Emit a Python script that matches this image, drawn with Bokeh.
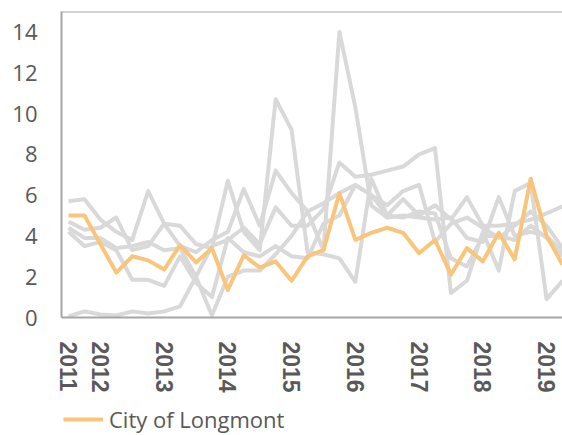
from bokeh.plotting import figure
from bokeh.layouts import column
from bokeh.models import Range1d, FixedTicker, Legend, LegendItem, Span
from bokeh.embed import file_html
from bokeh.resources import INLINE

quarters = ["2011 Q3", "2011 Q4",
            "2012 Q1", "2012 Q2", "2012 Q3", "2012 Q4",
            "2013 Q1", "2013 Q2", "2013 Q3", "2013 Q4",
            "2014 Q1", "2014 Q2", "2014 Q3", "2014 Q4",
            "2015 Q1", "2015 Q2", "2015 Q3", "2015 Q4",
            "2016 Q1", "2016 Q2", "2016 Q3", "2016 Q4",
            "2017 Q1", "2017 Q2", "2017 Q3", "2017 Q4",
            "2018 Q1", "2018 Q2", "2018 Q3", "2018 Q4",
            "2019 Q1", "2019 Q2"]

longmont = [5.0, 5.0, 3.6, 2.2, 3.0, 2.8, 2.35, 3.55, 2.7, 3.4, 1.35, 3.05,
            2.45, 2.75, 1.8, 3.0, 3.3, 6.1, 3.8, 4.15, 4.4, 4.15, 3.15, 3.8,
            2.1, 3.4, 2.75, 4.15, 2.85, 6.8, 4.0, 2.6]

comp_a = [5.7, 5.8, 4.8, 4.2, 3.8, 6.2, 4.6, 4.5, 3.6, 3.4, 6.7, 4.2,
          3.3, 10.7, 9.2, 3.2, 3.1, 2.9, 1.75, 6.8, 5.0, 5.8, 5.0, 5.5,
          4.8, 5.9, 4.5, 4.5, 4.6, 4.8, 5.1, 5.45]
comp_b = [4.7, 4.3, 4.4, 4.9, 3.3, 3.5, 4.6, 3.5, 3.2, 3.8, 4.2, 6.3,
          4.5, 7.2, 6.1, 5.2, 3.3, 14.0, 10.3, 5.5, 4.9, 5.0, 4.9, 4.8,
          4.9, 3.9, 3.7, 5.9, 4.0, 4.2, 4.0, 3.2]
comp_c = [4.4, 3.9, 3.9, 3.4, 3.5, 3.7, 3.3, 3.4, 2.0, 3.5, 3.8, 4.4,
          3.6, 5.4, 4.5, 4.5, 5.3, 7.6, 6.9, 7.0, 7.2, 7.4, 8.0, 8.3,
          1.2, 1.8, 4.2, 2.3, 6.2, 6.6, 0.9, 1.8]
comp_d = [4.2, 3.5, 3.7, 3.3, 1.85, 1.85, 1.55, 3.0, 1.7, 1.0, 3.9, 3.2,
          3.0, 3.5, 3.0, 2.9, 4.6, 5.0, 6.5, 6.0, 5.5, 6.2, 6.5, 3.7,
          4.6, 4.9, 4.4, 3.9, 4.5, 5.2, 4.5, 3.4]
comp_e = [0.05, 0.3, 0.15, 0.1, 0.3, 0.2, 0.3, 0.55, 2.0, 0.1, 2.0, 2.3,
          2.3, 3.1, 4.0, 5.2, 5.6, 6.1, 6.5, 6.0, 5.0, 4.9, 5.2, 5.1,
          2.9, 2.5, 4.0, 4.0, 3.8, 4.5, 3.9, 3.0]

comparisons = [comp_a, comp_b, comp_c, comp_d, comp_e]
y_ticks = [0, 2, 4, 6, 8, 10, 12, 14]

GRAY = "#d9d9d9"
ORANGE = "#f9c57a"
TEXT = "#595959"
AXIS = "#a6a6a6"

x = list(range(len(quarters)))
# year labels: first category and every Q1
tick_pos = [i for i, q in enumerate(quarters) if i == 0 or q.endswith("Q1")]
tick_labels = {i: quarters[i][:4] for i in tick_pos}

p = figure(width=562, height=395, output_backend="svg", toolbar_location=None,
           x_range=Range1d(-0.44, 31.0), y_range=Range1d(0, 15))
p.min_border_left = 61
p.min_border_right = 0
p.min_border_top = 11
p.min_border_bottom = 75
p.outline_line_color = None
p.xgrid.grid_line_color = None
p.ygrid.grid_line_color = None

for s in comparisons:
    p.line(x, s, line_color=GRAY, line_width=4, line_join="round")

p.line(x, longmont, line_color=ORANGE, line_width=4, line_join="round")

p.add_layout(Span(location=15, dimension="width", line_color=AXIS, line_width=2))

p.yaxis.ticker = FixedTicker(ticks=y_ticks)
p.yaxis.axis_line_color = AXIS
p.yaxis.axis_line_width = 2
p.yaxis.major_tick_line_color = None
p.yaxis.minor_tick_line_color = None
p.yaxis.major_label_standoff = 18
p.yaxis.major_label_text_font = "Open Sans"
p.yaxis.major_label_text_font_size = "22px"
p.yaxis.major_label_text_color = TEXT

p.xaxis.ticker = FixedTicker(ticks=tick_pos)
p.xaxis.major_label_overrides = tick_labels
p.xaxis.axis_line_color = AXIS
p.xaxis.axis_line_width = 2
p.xaxis.major_tick_line_color = None
p.xaxis.minor_tick_line_color = None
p.xaxis.major_label_orientation = "vertical"
p.xaxis.major_label_standoff = 18
p.xaxis.major_label_text_font = "Liberation Sans"
p.xaxis.major_label_text_font_style = "bold"
p.xaxis.major_label_text_font_size = "23px"
p.xaxis.major_label_text_color = TEXT

# legend strip below the chart (its key line renders the same series,
# kept outside the strip's visible range so only the legend shows)
lg = figure(width=562, height=40, output_backend="svg", toolbar_location=None,
            x_axis_location=None, y_axis_location=None,
            x_range=Range1d(0, 1), y_range=Range1d(100, 101))
lg.min_border_left = 0
lg.min_border_right = 0
lg.min_border_top = 0
lg.min_border_bottom = 0
lg.outline_line_color = None
lg.grid.visible = False
key = lg.line(x, longmont, line_color=ORANGE, line_width=4)

legend = Legend(items=[LegendItem(label="City of Longmont", renderers=[key])],
                location=(2, 1), orientation="horizontal")
legend.border_line_color = None
legend.background_fill_alpha = 0
legend.label_text_font = "Open Sans"
legend.label_text_font_size = "22px"
legend.label_text_color = TEXT
legend.glyph_width = 40
legend.glyph_height = 20
legend.label_standoff = 6
legend.padding = 2
legend.margin = 0
legend.spacing = 0
lg.add_layout(legend, "center")

layout = column(p, lg, spacing=0)
open("out.html", "w").write(file_html(layout, INLINE))
